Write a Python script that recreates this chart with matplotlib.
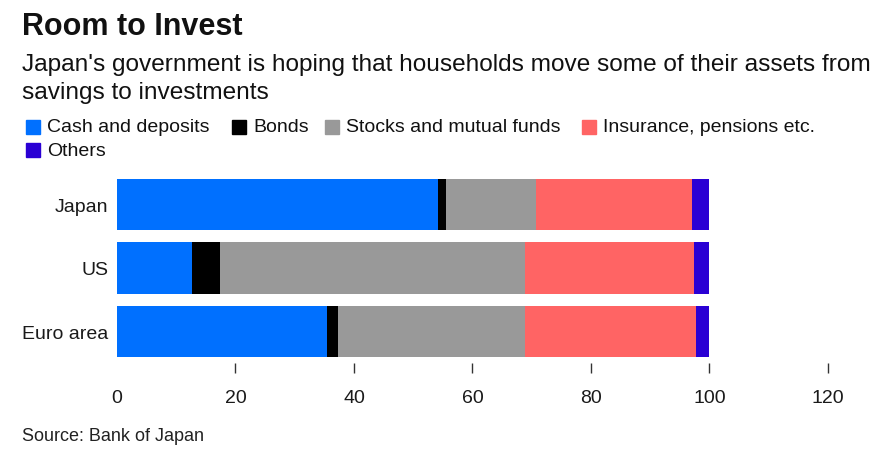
import numpy as np
import matplotlib.pyplot as plt
from matplotlib.patches import Rectangle

# data (share of household assets, %)
regions = ['Japan', 'US', 'Euro area']
series = ['Cash and deposits', 'Bonds', 'Stocks and mutual funds',
          'Insurance, pensions etc.', 'Others']
cash = [54.2, 12.6, 35.5]
bonds = [1.3, 4.8, 1.8]
stocks = [15.3, 51.4, 31.5]
insurance = [26.3, 28.5, 29.0]
others = [2.9, 2.7, 2.2]
colors = ['#0070ff', '#000000', '#999999', '#ff6464', '#2a00d4']
xticks = [0, 20, 40, 60, 80, 100, 120]

plt.rcParams['font.family'] = ['Liberation Sans', 'DejaVu Sans']

fig = plt.figure(figsize=(8.87, 4.6), dpi=100)
ax = fig.add_axes([117 / 887, 1 - 364.25 / 460, (828 - 117) / 887, 190.5 / 460])

y = np.arange(len(regions))
left = np.zeros(len(regions))
for vals, c in zip([cash, bonds, stocks, insurance, others], colors):
    ax.barh(y, vals, left=left, height=0.81, color=c, linewidth=0)
    left += np.array(vals)

ax.set_xlim(0, 120)
ax.set_ylim(2.5, -0.5)
ax.set_yticks(y)
ax.set_yticklabels(regions, fontsize=14, color='#1a1a1a')
ax.set_xticks(xticks)
ax.set_xticklabels([str(t) for t in xticks], fontsize=14, color='#1a1a1a')
ax.tick_params(axis='y', length=0, pad=6)
ax.tick_params(axis='x', length=7.5, width=1, color='#333333', pad=11)
ax.xaxis.get_major_ticks()[0].tick1line.set_visible(False)
for s in ax.spines.values():
    s.set_visible(False)

# titles
fig.text(22 / 887, 1 - 35 / 460, 'Room to Invest', fontweight='bold',
         fontsize=22, color='#111111')
fig.text(22 / 887, 1 - 71 / 460, "Japan's government is hoping that households move some of their assets from",
         fontsize=17.6, color='#111111')
fig.text(22 / 887, 1 - 99 / 460, 'savings to investments',
         fontsize=17.6, color='#111111')

# legend
leg_pos = [(26, 128), (232, 128), (325, 128), (582, 128), (26, 151)]
for (lx, ly), name, c in zip(leg_pos, series, colors):
    fig.patches.append(Rectangle((lx / 887, 1 - (ly + 7) / 460), 14 / 887, 14 / 460,
                                 transform=fig.transFigure, color=c, figure=fig))
    fig.text((lx + 21) / 887, 1 - ly / 460, name, fontsize=14,
             va='center', color='#111111')

fig.text(22 / 887, 1 - 437 / 460, 'Source: Bank of Japan', fontsize=13, color='#222222',
         va='center')

fig.savefig('out.png', dpi=100)
